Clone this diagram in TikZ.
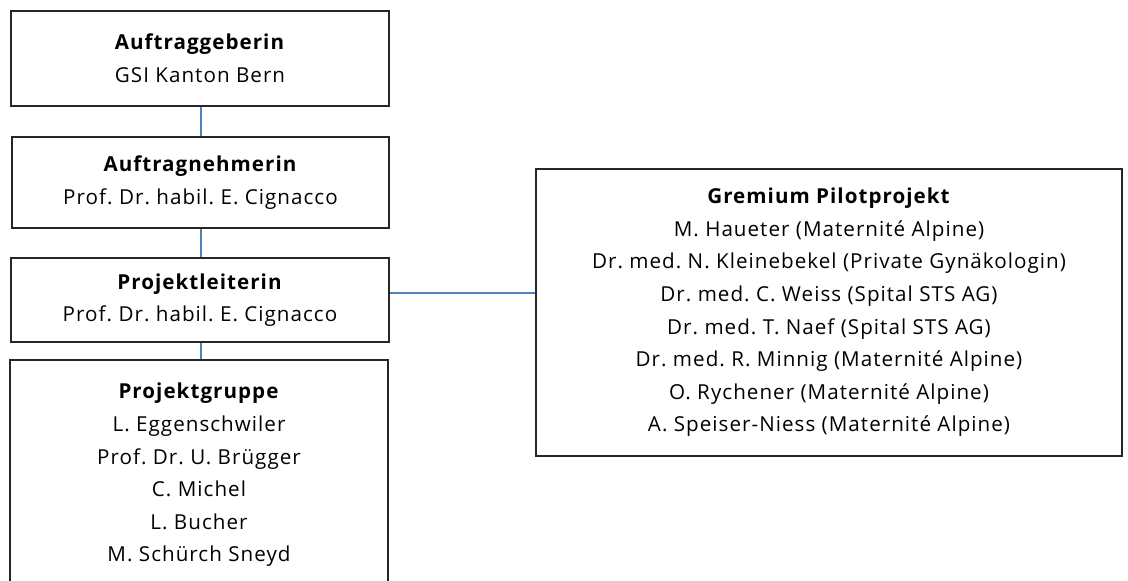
\documentclass[tikz,border=0pt]{standalone}
\usepackage{fontspec}
\setmainfont{Open Sans}[LetterSpace=5]
\definecolor{linkblue}{HTML}{4F81BD}
\definecolor{frame}{HTML}{262626}
\begin{document}
\frenchspacing
\begin{tikzpicture}[x=1pt,y=-1pt,
  orgbox/.style={draw=frame, line width=1.4pt, fill=white, align=center,
    inner sep=0pt, font=\fontsize{20.6}{32.6}\selectfont},
  link/.style={draw=linkblue, line width=2pt}]
\useasboundingbox (0,0) rectangle (1128,581);

\node[orgbox, minimum width=378, minimum height=95] (geber) at (200,58.5)
  {\textbf{Auftraggeberin}\\GSI Kanton Bern};
\node[orgbox, minimum width=377, minimum height=91] (nehmer) at (200.5,182.5)
  {\textbf{Auftragnehmerin}\\Prof. Dr. habil. E. Cignacco};
\node[orgbox, minimum width=378, minimum height=84] (leitung) at (200,300)
  {\textbf{Projektleiterin}\\Prof. Dr. habil. E. Cignacco};
\node[orgbox, minimum width=378, minimum height=230] (gruppe) at (199,475)
  {\textbf{Projektgruppe}\\L. Eggenschwiler\\Prof. Dr. U. Brügger\\C. Michel\\L. Bucher\\M. Schürch Sneyd};
\node[orgbox, minimum width=586, minimum height=287] (gremium) at (829,312.5)
  {\textbf{Gremium Pilotprojekt}\\M. Haueter (Maternité Alpine)\\Dr. med. N. Kleinebekel (Private Gynäkologin)\\Dr. med. C. Weiss (Spital STS AG)\\Dr. med. T. Naef (Spital STS AG)\\Dr. med. R. Minnig (Maternité Alpine)\\O. Rychener (Maternité Alpine)\\A. Speiser-Niess (Maternité Alpine)};

\draw[link] (geber.south -| 200.7,0) -- (nehmer.north -| 200.7,0);
\draw[link] (nehmer.south -| 200.7,0) -- (leitung.north -| 200.7,0);
\draw[link] (leitung.south -| 200.7,0) -- (gruppe.north -| 200.7,0);
\draw[link] (leitung.east |- 0,292.7) -- (gremium.west |- 0,292.7);
\end{tikzpicture}
\end{document}
